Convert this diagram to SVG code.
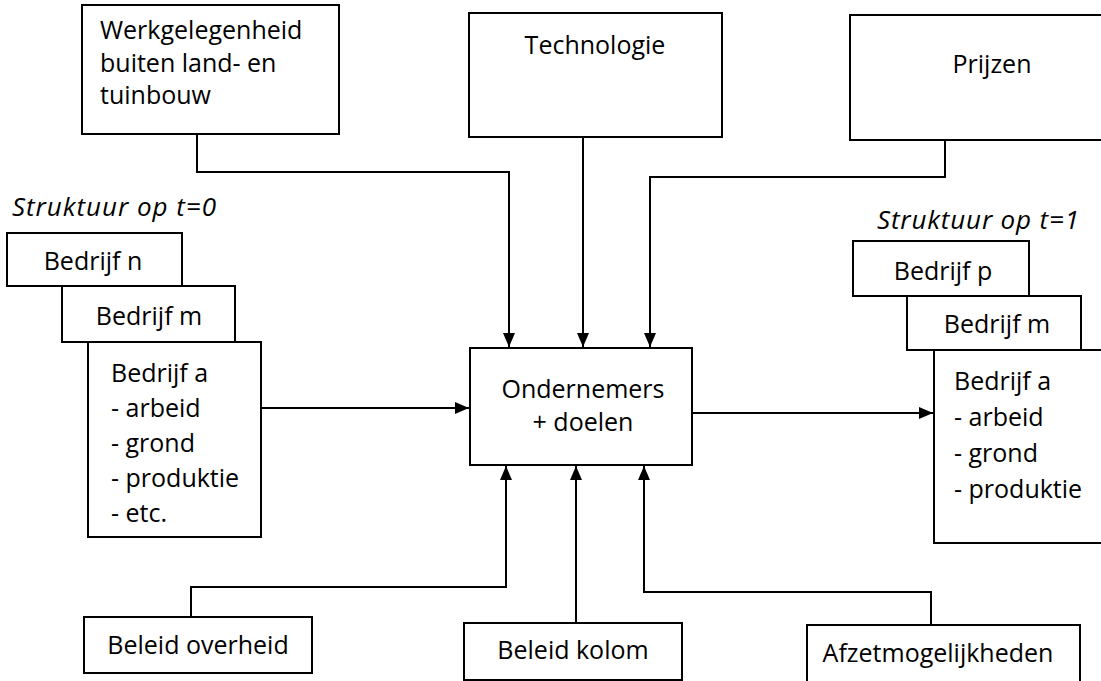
<svg xmlns="http://www.w3.org/2000/svg" width="1101" height="681" viewBox="0 0 1101 681">
<defs>
<marker id="ah" viewBox="0 0 14 12" refX="14" refY="6" markerWidth="14" markerHeight="12" markerUnits="userSpaceOnUse" orient="auto">
<path d="M0,0 L14,6 L0,12 Z" fill="#000"/>
</marker>
<style>
.box{fill:#fff;stroke:#000;stroke-width:2}
.t{font-family:"Open Sans","Liberation Sans",sans-serif;font-size:25px;font-weight:500;fill:#000}
.i{font-style:italic;font-size:26px}
.c{text-anchor:middle}
.ln{fill:none;stroke:#000;stroke-width:2}
</style>
</defs>
<rect width="1101" height="681" fill="#fff"/>
<g id="werkgelegenheid">
<rect class="box" x="82" y="5" width="257" height="129"/>
<text class="t" x="100" y="39">Werkgelegenheid</text>
<text class="t" x="100" y="72">buiten land- en</text>
<text class="t" x="100" y="104">tuinbouw</text>
</g>
<g id="technologie">
<rect class="box" x="469" y="13" width="253" height="124"/>
<text class="t c" x="595" y="54">Technologie</text>
</g>
<g id="prijzen">
<rect class="box" x="850" y="15" width="260" height="125"/>
<text class="t c" x="992" y="73">Prijzen</text>
</g>
<g id="struktuur0">
<text class="t i" x="12" y="216" textLength="204">Struktuur op t=0</text>
</g>
<g id="bedrijf-n-0">
<rect class="box" x="7" y="233" width="175" height="53"/>
<text class="t c" x="93" y="270">Bedrijf n</text>
</g>
<g id="bedrijf-m-0">
<rect class="box" x="62" y="286" width="173" height="56"/>
<text class="t c" x="149" y="325">Bedrijf m</text>
</g>
<g id="bedrijf-a-0">
<rect class="box" x="88" y="342" width="173" height="195"/>
<text class="t" x="111" y="382">Bedrijf a</text>
<text class="t" x="111" y="417">- arbeid</text>
<text class="t" x="111" y="452">- grond</text>
<text class="t" x="111" y="487">- produktie</text>
<text class="t" x="111" y="522">- etc.</text>
</g>
<g id="ondernemers">
<rect class="box" x="470" y="348" width="222" height="117"/>
<text class="t c" x="583" y="398">Ondernemers</text>
<text class="t c" x="583" y="431">+ doelen</text>
</g>
<g id="struktuur1">
<text class="t i" x="877" y="229" textLength="202">Struktuur op t=1</text>
</g>
<g id="bedrijf-p-1">
<rect class="box" x="853" y="241" width="176" height="55"/>
<text class="t c" x="943" y="280">Bedrijf p</text>
</g>
<g id="bedrijf-m-1">
<rect class="box" x="907" y="296" width="174" height="54"/>
<text class="t c" x="997" y="333">Bedrijf m</text>
</g>
<g id="bedrijf-a-1">
<rect class="box" x="934" y="350" width="180" height="193"/>
<text class="t" x="954" y="390">Bedrijf a</text>
<text class="t" x="954" y="426">- arbeid</text>
<text class="t" x="954" y="462">- grond</text>
<text class="t" x="954" y="498">- produktie</text>
</g>
<g id="beleid-overheid">
<rect class="box" x="84" y="617" width="228" height="56"/>
<text class="t c" x="198" y="654">Beleid overheid</text>
</g>
<g id="beleid-kolom">
<rect class="box" x="464" y="623" width="218" height="57"/>
<text class="t c" x="573" y="659">Beleid kolom</text>
</g>
<g id="afzet">
<rect class="box" x="807" y="625" width="273" height="60"/>
<text class="t c" x="938" y="662">Afzetmogelijkheden</text>
</g>
<g id="connectors">
<path class="ln" d="M197,134 V172 H509 V347" marker-end="url(#ah)"/>
<path class="ln" d="M583,137 V347" marker-end="url(#ah)"/>
<path class="ln" d="M945,140 V177 H650 V347" marker-end="url(#ah)"/>
<path class="ln" d="M261,408 H469" marker-end="url(#ah)"/>
<path class="ln" d="M692,413 H933" marker-end="url(#ah)"/>
<path class="ln" d="M191,617 V587 H506 V466" marker-end="url(#ah)"/>
<path class="ln" d="M576,623 V466" marker-end="url(#ah)"/>
<path class="ln" d="M931,625 V592 H644 V466" marker-end="url(#ah)"/>
</g>
</svg>
